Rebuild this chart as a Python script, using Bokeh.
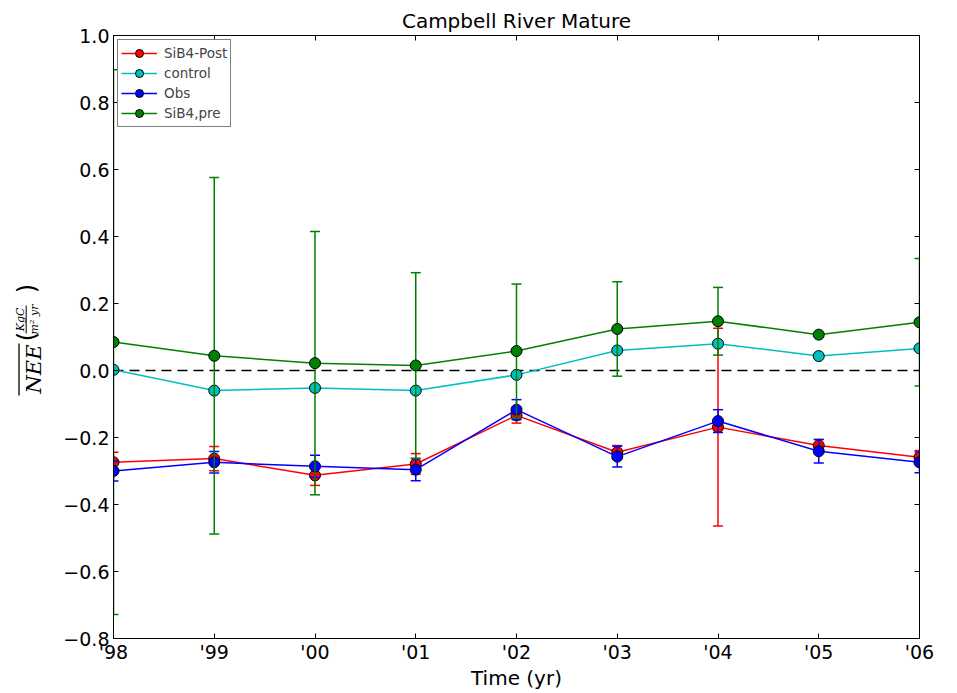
import numpy as np
from bokeh.plotting import figure
from bokeh.layouts import row
from bokeh.models import (ColumnDataSource, FixedTicker, LinearAxis, Span,
                          Legend, LegendItem, Range1d, Label, Arrow)
from bokeh.embed import file_html
from bokeh.resources import INLINE

# ---- data -------------------------------------------------------------
years = [1998, 1999, 2000, 2001, 2002, 2003, 2004, 2005, 2006]
year_labels = ["'98", "'99", "'00", "'01", "'02", "'03", "'04", "'05", "'06"]
y_ticks = [-0.8, -0.6, -0.4, -0.2, 0.0, 0.2, 0.4, 0.6, 0.8, 1.0]
y_tick_labels = ["\u22120.8", "\u22120.6", "\u22120.4", "\u22120.2", "0.0",
                 "0.2", "0.4", "0.6", "0.8", "1.0"]

sib4_post = [-0.274, -0.263, -0.313, -0.279, -0.134, -0.244, -0.169, -0.224, -0.259]
sib4_post_err = [0.030, 0.036, 0.030, 0.031, 0.023, 0.020, 0.295, 0.018, 0.020]

control = [0.002, -0.060, -0.052, -0.060, -0.013, 0.060, 0.080, 0.043, 0.066]
control_err = [0.0, 0.0, 0.0, 0.0, 0.0, 0.0, 0.0, 0.0, 0.0]

obs = [-0.300, -0.274, -0.286, -0.296, -0.117, -0.257, -0.151, -0.241, -0.274]
obs_err = [0.030, 0.032, 0.033, 0.033, 0.030, 0.031, 0.034, 0.035, 0.031]

sib4_pre = [0.085, 0.044, 0.022, 0.015, 0.058, 0.124, 0.147, 0.107, 0.144]
sib4_pre_err = [0.813, 0.532, 0.393, 0.277, 0.200, 0.141, 0.101, 0.0, 0.190]

series = [
    ("SiB4-Post", sib4_post, sib4_post_err, "#ff0000"),
    ("control", control, control_err, "#00bfbf"),
    ("Obs", obs, obs_err, "#0000ff"),
    ("SiB4,pre", sib4_pre, sib4_pre_err, "#008000"),
]

FONT = "DejaVu Sans"
SERIF = "DejaVu Serif"
LAB_W = 50          # width of the strip that holds the y-axis title
H = 693
FRAME_TOP, FRAME_BOTTOM = 35, 638

p = figure(width=957 - LAB_W, height=H,
           x_range=Range1d(1998, 2006), y_range=Range1d(-0.8, 1.0),
           output_backend="svg", toolbar_location=None,
           min_border_left=113 - LAB_W, min_border_right=38,
           min_border_top=FRAME_TOP, min_border_bottom=H - FRAME_BOTTOM,
           title="Campbell River Mature")
p.grid.visible = False
p.outline_line_color = "black"
p.outline_line_width = 1
p.background_fill_color = "white"
p.border_fill_color = "white"

p.title.align = "center"
p.title.text_font = FONT
p.title.text_font_style = "normal"
p.title.text_font_size = "20px"
p.title.text_color = "black"
p.title.standoff = 5

xticker = FixedTicker(ticks=years)
yticker = FixedTicker(ticks=y_ticks)

def style_axis(ax):
    ax.major_tick_in = 5
    ax.major_tick_out = 0
    ax.minor_tick_in = 0
    ax.minor_tick_out = 0
    ax.axis_line_color = "black"
    ax.major_tick_line_color = "black"
    ax.major_label_text_font = FONT
    ax.major_label_text_font_size = "19px"
    ax.major_label_text_color = "black"

xa = p.xaxis[0]
xa.ticker = xticker
xa.major_label_overrides = {y: l for y, l in zip(years, year_labels)}
xa.axis_label = "Time (yr)"
xa.axis_label_text_font = FONT
xa.axis_label_text_font_size = "20px"
xa.axis_label_text_font_style = "normal"
xa.axis_label_text_color = "black"
xa.axis_label_standoff = 0
xa.major_label_standoff = 2
style_axis(xa)

ya = p.yaxis[0]
ya.ticker = yticker
ya.major_label_overrides = {v: l for v, l in zip(y_ticks, y_tick_labels)}
ya.major_label_standoff = 4
style_axis(ya)

top = LinearAxis(ticker=xticker,
                 major_label_overrides={y: "" for y in years})
style_axis(top)
top.major_label_standoff = 0
p.add_layout(top, "above")

right = LinearAxis(ticker=yticker,
                   major_label_overrides={v: "" for v in y_ticks})
style_axis(right)
right.major_label_standoff = 0
p.add_layout(right, "right")

zero = Span(location=0, dimension="width", line_color="black",
            line_dash="10 6", line_width=1.5, level="underlay")
p.add_layout(zero)

items = []
for name, vals, errs, color in series:
    v = np.array(vals)
    e = np.array(errs)
    src = ColumnDataSource(dict(x=years, y=vals, lo=list(v - e), hi=list(v + e)))
    p.segment(x0="x", y0="lo", x1="x", y1="hi", source=src,
              line_color=color, line_width=1.5)
    p.scatter(x="x", y="hi", source=src, marker="dash", size=10,
              line_color=color, line_width=1.5)
    p.scatter(x="x", y="lo", source=src, marker="dash", size=10,
              line_color=color, line_width=1.5)
    ln = p.line(x="x", y="y", source=src, line_color=color, line_width=1.5)
    mk = p.scatter(x="x", y="y", source=src, marker="circle", size=11,
                   fill_color=color, line_color="black", line_width=1)
    items.append(LegendItem(label=name, renderers=[ln, mk]))

legend = Legend(items=items, location="top_left")
legend.margin = 4
legend.padding = 3
legend.spacing = 0
legend.glyph_height = 20
legend.glyph_width = 36
legend.label_height = 20
legend.label_standoff = 7
legend.label_text_font = FONT
legend.label_text_font_size = "13.5px"
legend.border_line_color = "black"
legend.border_line_width = 1
legend.border_radius = 0
legend.background_fill_alpha = 1.0
p.add_layout(legend)

# ---- y-axis title strip: overline(NEE) (KgC / m^2 yr) -------------------
# the strip's frame is aligned with the main frame (rows align frames),
# screen y is measured upward from the frame bottom
q = figure(width=LAB_W, height=H, output_backend="svg", toolbar_location=None,
           x_axis_type=None, y_axis_type=None, min_border=0,
           min_border_top=FRAME_TOP, min_border_bottom=H - FRAME_BOTTOM,
           x_range=Range1d(0, 1), y_range=Range1d(0, 1))
q.grid.visible = False
q.outline_line_color = None
q.background_fill_color = "white"
q.border_fill_color = "white"

ROT = np.pi / 2
def ylab(text, x, py, size, font=SERIF, style="italic", align="left",
         baseline="alphabetic"):
    q.add_layout(Label(x=x, y=FRAME_BOTTOM - py, x_units="screen",
                       y_units="screen", text=text, angle=ROT,
                       text_font=font, text_font_style=style,
                       text_font_size=size, text_align=align,
                       text_baseline=baseline, text_color="black"))

def yline(x, py0, py1, w=1.3):
    q.add_layout(Arrow(x_start=x, y_start=FRAME_BOTTOM - py0, x_end=x,
                       y_end=FRAME_BOTTOM - py1,
                       start_units="screen", end_units="screen",
                       start=None, end=None, line_color="black",
                       line_width=w))

ylab("NEE", 33, 393, "21px")
yline(18.5, 395, 343)
ylab("(", 26, 336, "24px", font=FONT, style="normal", align="center",
     baseline="middle")
ylab("KgC", 20, 319, "11px", align="center")
yline(25.7, 333, 305, w=1.0)
ylab("m\u00b2 yr", 34, 319, "11px", align="center")
ylab(")", 26, 288, "24px", font=FONT, style="normal", align="center",
     baseline="middle")

layout = row(q, p, spacing=0)
open("out.html", "w").write(file_html(layout, INLINE))
